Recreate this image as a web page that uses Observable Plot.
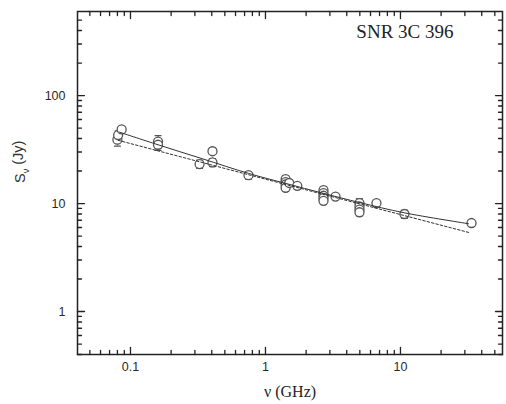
<!DOCTYPE html>
<html>
<head>
<meta charset="utf-8">
<script src="https://cdn.jsdelivr.net/npm/d3@7"></script>
<script src="https://cdn.jsdelivr.net/npm/@observablehq/plot@0.6"></script>
<style>
  html, body { margin: 0; padding: 0; background: #fff; }
</style>
</head>
<body>
<div id="chart"></div>
<script>
// Observed flux densities (GHz, Jy, error Jy)
const nu      = [0.080, 0.081, 0.086, 0.160, 0.160, 0.325, 0.405, 0.405, 0.748, 1.41, 1.41, 1.41, 1.41, 1.50, 1.72, 2.69, 2.69, 2.69, 2.69, 2.69, 3.30, 4.97, 4.97, 4.97, 4.97, 6.64, 10.7, 33.6];
const flux    = [39,    43,    48.5,  37.5,  35,    23.2,  30.5,  24,    18.3,  16.8, 15.8, 15.0, 14.0, 15.5, 14.6, 13.3, 12.5, 11.8, 11.2, 10.6, 11.6, 10.1, 9.4,  8.8,  8.3,  10.1, 8.0,  6.6];
const fluxErr = [5,     4,     3,     5,     4,     2,     2,     2,     1.5,   1.2,  1.2,  1.0,  1.0,  1.0,  1.0,  1.0,  1.0,  1.0,  1.0,  0.8,  0.6,  1.0,  0.8,  0.7,  0.6,  0.5,  0.7,  0.3];

// Curved fit (solid)
const fitNu = [0.082, 0.16, 0.34, 0.75, 1.4, 2.7, 5, 10.7, 32];
const fitS  = [46, 35, 26, 19, 15.4, 12.4, 10.2, 8.2, 6.5];

// Straight power-law fit (dashed)
const dashNu = [0.081, 1, 32];
const dashS  = [38.5, 16.8, 5.4];

// Ticks
const xMajor = [0.1, 1, 10];
const xMinor = [0.05, 0.06, 0.07, 0.08, 0.09, 0.2, 0.3, 0.4, 0.5, 0.6, 0.7, 0.8, 0.9, 2, 3, 4, 5, 6, 7, 8, 9, 20, 30, 40, 50];
const yMajor = [1, 10, 100];
const yMinor = [0.4, 0.5, 0.6, 0.7, 0.8, 0.9, 2, 3, 4, 5, 6, 7, 8, 9, 20, 30, 40, 50, 60, 70, 80, 90, 200, 300, 400, 500];

const title = "SNR 3C 396";
const xLabel = "ν (GHz)";
const yLabel = "Sν (Jy)";

const points = nu.map((v, i) => ({nu: v, S: flux[i], e: fluxErr[i]}));
const fit = fitNu.map((v, i) => ({nu: v, S: fitS[i]}));
const dash = dashNu.map((v, i) => ({nu: v, S: dashS[i]}));

const seg = {draw(ctx, l) { ctx.moveTo(0, 0); ctx.lineTo(0, -l); }};
const tickCol = "#222";

const tickMarks = (vals, len, frameAnchor, rotate, axis) =>
  Plot.vector(vals, {[axis]: d => d, frameAnchor, rotate, length: len, anchor: "start", shape: seg, stroke: tickCol, strokeWidth: 1.3});

const svg = Plot.plot({
  width: 506,
  height: 404,
  marginLeft: 77,
  marginRight: 4,
  marginTop: 11,
  marginBottom: 50,
  style: {fontFamily: "'Liberation Sans', Arial, sans-serif", background: "#fff", color: "#222"},
  x: {type: "log", domain: [0.0405, 57]},
  y: {type: "log", domain: [0.4, 600]},
  marks: [
    // ticks, inward on all four sides
    tickMarks(xMajor, 7, "bottom", 0, "x"),
    tickMarks(xMinor, 4, "bottom", 0, "x"),
    tickMarks(xMajor, 7, "top", 180, "x"),
    tickMarks(xMinor, 4, "top", 180, "x"),
    tickMarks(yMajor, 7, "left", 90, "y"),
    tickMarks(yMinor, 4, "left", 90, "y"),
    tickMarks(yMajor, 7, "right", -90, "y"),
    tickMarks(yMinor, 4, "right", -90, "y"),
    Plot.axisX(xMajor, {tickSize: 0, tickPadding: 8, fontSize: 12.5, label: null, tickFormat: d => String(d), fill: "#2a2a2a"}),
    Plot.axisY(yMajor, {tickSize: 0, tickPadding: 12, fontSize: 12.5, label: null, tickFormat: d => String(d), fill: "#2a2a2a"}),
    // error bars
    Plot.ruleX(points, {x: "nu", y1: d => d.S - d.e, y2: d => d.S + d.e, stroke: "#666", strokeWidth: 1}),
    Plot.vector(points, {x: "nu", y: d => d.S - d.e, rotate: 90, length: 6, anchor: "middle", shape: seg, stroke: "#555", strokeWidth: 1.2}),
    Plot.vector(points, {x: "nu", y: d => d.S + d.e, rotate: 90, length: 6, anchor: "middle", shape: seg, stroke: "#555", strokeWidth: 1.2}),
    // data
    Plot.dot(points, {x: "nu", y: "S", r: 4.5, stroke: "#555", strokeWidth: 1.3, fill: "#fff"}),
    // fits
    Plot.line(dash, {x: "nu", y: "S", stroke: "#333", strokeWidth: 1, strokeDasharray: "2.5,2"}),
    Plot.line(fit, {x: "nu", y: "S", stroke: "#333", strokeWidth: 1, curve: "catmull-rom"}),
    Plot.frame({stroke: "#222", strokeWidth: 1.5}),
    // texts
    Plot.text([title], {text: d => d, frameAnchor: "top-right", textAnchor: "end", lineAnchor: "top", dx: -49, dy: 13, fontFamily: "'Liberation Serif', 'Times New Roman', serif", fontSize: 19, fill: "#222"}),
    Plot.text([xLabel], {text: d => d, frameAnchor: "bottom", lineAnchor: "middle", dy: 37, fontFamily: "'Liberation Serif', 'Times New Roman', serif", fontSize: 16, fill: "#222"}),
    Plot.text([yLabel], {text: d => d, frameAnchor: "left", rotate: -90, lineAnchor: "middle", dx: -57, fontSize: 14.5, fill: "#333"})
  ]
});

// subscript ν in the y label
svg.querySelectorAll("text").forEach(t => {
  if (t.textContent === yLabel) {
    t.textContent = "";
    const ns = "http://www.w3.org/2000/svg";
    const a = document.createElementNS(ns, "tspan"); a.textContent = "S";
    const b = document.createElementNS(ns, "tspan"); b.textContent = "ν";
    b.setAttribute("dy", "0.4em"); b.setAttribute("font-size", "9");
    const c = document.createElementNS(ns, "tspan"); c.textContent = " (Jy)";
    c.setAttribute("dy", "-0.4em");
    t.append(a, b, c);
  }
});

document.getElementById("chart").append(svg);
</script>
</body>
</html>
